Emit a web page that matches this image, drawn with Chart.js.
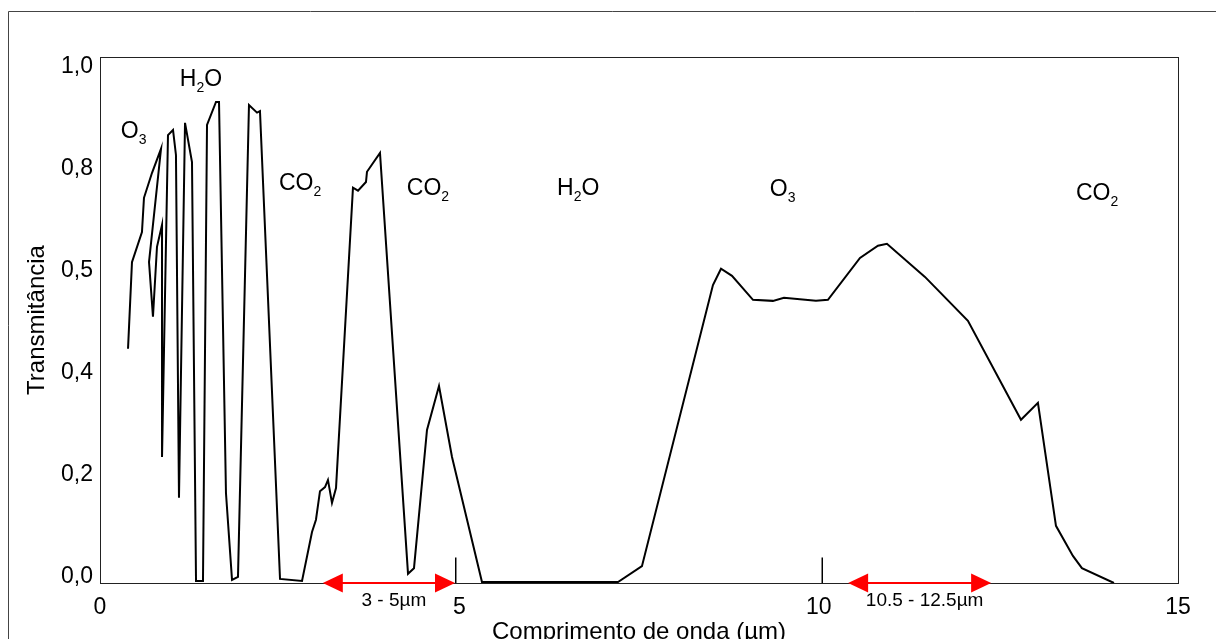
<!DOCTYPE html>
<html>
<head>
<meta charset="utf-8">
<script src="https://cdn.jsdelivr.net/npm/chart.js@4.4.1/dist/chart.umd.min.js"></script>
<style>
  html, body { margin: 0; padding: 0; background: #fff; }
  canvas { display: block; }
</style>
</head>
<body>
<canvas id="chart" width="1216" height="639"></canvas>
<script>
// wavelength (µm) and transmittance, in drawing order
const wavelength = [
  0.39, 0.445, 0.584, 0.612, 0.724, 0.849, 0.682, 0.737, 0.793, 0.863,
  0.863, 0.946, 1.016, 1.057, 1.099, 1.183, 1.28, 1.336, 1.433, 1.489,
  1.614, 1.656, 1.753, 1.837, 1.92, 2.073, 2.185, 2.226, 2.505, 2.811,
  2.95, 3.005, 3.061, 3.131, 3.172, 3.228, 3.284, 3.52, 3.59, 3.701,
  3.715, 3.896, 4.286, 4.369, 4.55, 4.717, 4.898, 5.315, 7.208, 7.541,
  8.529, 8.641, 8.794, 9.086, 9.364, 9.517, 9.962, 10.129, 10.575, 10.825,
  10.95, 11.479, 12.077, 12.815, 13.051, 13.302, 13.538, 13.663, 14.109
];
const transmittance = [
  0.459, 0.629, 0.688, 0.755, 0.804, 0.851, 0.629, 0.522, 0.659, 0.702,
  0.247, 0.878, 0.888, 0.839, 0.167, 0.902, 0.825, 0.004, 0.004, 0.898,
  0.943, 0.943, 0.176, 0.006, 0.012, 0.937, 0.922, 0.925, 0.008, 0.004,
  0.1, 0.124, 0.18, 0.188, 0.202, 0.157, 0.186, 0.775, 0.769, 0.786,
  0.806, 0.843, 0.018, 0.029, 0.3, 0.386, 0.247, 0.002, 0.002, 0.033,
  0.584, 0.616, 0.602, 0.555, 0.553, 0.559, 0.553, 0.555, 0.637, 0.661,
  0.665, 0.6, 0.514, 0.32, 0.353, 0.112, 0.053, 0.029, 0
];

const xTicks = [0, 5, 10, 15];
const yTickValues = [0, 0.2, 0.4, 0.6, 0.8, 1.0];
const yTickLabels = ['0,0', '0,2', '0,4', '0,5', '0,8', '1,0'];

// little marks standing on the axis near 5 and 10 µm
const markX = [4.95, 10.05];
const markHeight = 0.05;

// band labels: letters, subscript, trailing letters, left edge / baseline
const gasMain = ['O', 'H', 'CO', 'CO', 'H', 'O', 'CO'];
const gasSub = ['3', '2', '2', '2', '2', '3', '2'];
const gasTail = ['', 'O', '', '', 'O', '', ''];
const gasX = [0.29, 1.11, 2.49, 4.27, 6.36, 9.32, 13.58];
const gasY = [0.873, 0.974, 0.771, 0.761, 0.761, 0.759, 0.751];

// atmospheric windows marked in red
const windowFrom = [3.1, 10.41];
const windowTo = [4.94, 12.4];
const windowLabels = ['3 - 5µm', '10.5 - 12.5µm'];

const FONT = '"Liberation Sans", Arial, sans-serif';

const decorations = {
  id: 'decorations',
  beforeDraw(chart) {
    const ctx = chart.ctx;
    const a = chart.chartArea;
    ctx.save();
    // outer frame
    ctx.strokeStyle = '#444';
    ctx.lineWidth = 1;
    ctx.beginPath();
    ctx.moveTo(8.5, chart.height);
    ctx.lineTo(8.5, 11.5);
    ctx.lineTo(chart.width, 11.5);
    ctx.stroke();
    // plot box
    ctx.strokeStyle = '#222';
    ctx.strokeRect(a.left + 0.5, a.top + 0.5, a.right - a.left, a.bottom - a.top);
    ctx.restore();
  },
  afterDatasetsDraw(chart) {
    const { ctx, scales: { x, y } } = chart;
    ctx.save();
    ctx.fillStyle = '#000';
    ctx.textAlign = 'left';
    ctx.textBaseline = 'alphabetic';
    gasMain.forEach((txt, i) => {
      let px = x.getPixelForValue(gasX[i]);
      const py = y.getPixelForValue(gasY[i]);
      ctx.font = '23px ' + FONT;
      ctx.fillText(txt, px, py);
      px += ctx.measureText(txt).width;
      ctx.font = '14px ' + FONT;
      ctx.fillText(gasSub[i], px, py + 6);
      px += ctx.measureText(gasSub[i]).width;
      if (gasTail[i]) {
        ctx.font = '23px ' + FONT;
        ctx.fillText(gasTail[i], px, py);
      }
    });

    const y0 = y.getPixelForValue(0);
    windowFrom.forEach((from, i) => {
      const x1 = x.getPixelForValue(from);
      const x2 = x.getPixelForValue(windowTo[i]);
      ctx.strokeStyle = '#ff0000';
      ctx.fillStyle = '#ff0000';
      ctx.lineWidth = 2;
      ctx.beginPath();
      ctx.moveTo(x1 + 10, y0);
      ctx.lineTo(x2 - 10, y0);
      ctx.stroke();
      ctx.beginPath();
      ctx.moveTo(x1, y0);
      ctx.lineTo(x1 + 20, y0 - 9.5);
      ctx.lineTo(x1 + 20, y0 + 9.5);
      ctx.closePath();
      ctx.fill();
      ctx.beginPath();
      ctx.moveTo(x2, y0);
      ctx.lineTo(x2 - 20, y0 - 9.5);
      ctx.lineTo(x2 - 20, y0 + 9.5);
      ctx.closePath();
      ctx.fill();
      ctx.fillStyle = '#000';
      ctx.font = '19px ' + FONT;
      ctx.textAlign = 'center';
      ctx.fillText(windowLabels[i], (x1 + x2) / 2 + 5, y0 + 23);
      ctx.textAlign = 'left';
    });
    ctx.restore();
  }
};

const markSets = markX.map((mx) => ({
  data: [{ x: mx, y: 0 }, { x: mx, y: markHeight }],
  showLine: true,
  borderColor: '#000',
  borderWidth: 1.5,
  pointRadius: 0,
}));

new Chart(document.getElementById('chart').getContext('2d'), {
  type: 'scatter',
  data: {
    datasets: [
      {
        data: wavelength.map((w, i) => ({ x: w, y: transmittance[i] })),
        showLine: true,
        borderColor: '#000',
        borderWidth: 2,
        pointRadius: 0,
        tension: 0,
      },
      ...markSets,
    ],
  },
  options: {
    responsive: false,
    animation: false,
    events: [],
    layout: { padding: { top: 57, right: 38, left: 0, bottom: 0 } },
    plugins: { legend: { display: false }, tooltip: { enabled: false } },
    scales: {
      x: {
        type: 'linear',
        min: 0,
        max: 15,
        grid: { display: false, drawTicks: false },
        border: { display: false },
        afterBuildTicks: (scale) => { scale.ticks = xTicks.map((v) => ({ value: v })); },
        afterFit: (scale) => { scale.height = 56; },
        ticks: { color: '#000', padding: 11, font: { family: FONT, size: 23 } },
        title: {
          display: true,
          text: 'Comprimento de onda (µm)',
          color: '#000',
          font: { family: FONT, size: 24, lineHeight: 1 },
          padding: { top: 0, bottom: -5 },
        },
      },
      y: {
        type: 'linear',
        min: 0,
        max: 1.031,
        grid: { display: false, drawTicks: false },
        border: { display: false },
        afterBuildTicks: (scale) => { scale.ticks = yTickValues.map((v) => ({ value: v })); },
        afterFit: (scale) => { scale.width = 100; },
        ticks: {
          color: '#000',
          padding: 7,
          labelOffset: -6,
          font: { family: FONT, size: 23 },
          callback: (v, i) => yTickLabels[i],
        },
        title: {
          display: true,
          text: 'Transmitância',
          color: '#000',
          font: { family: FONT, size: 24 },
          padding: { top: 23, bottom: 0 },
        },
      },
    },
  },
  plugins: [decorations],
});
</script>
</body>
</html>
